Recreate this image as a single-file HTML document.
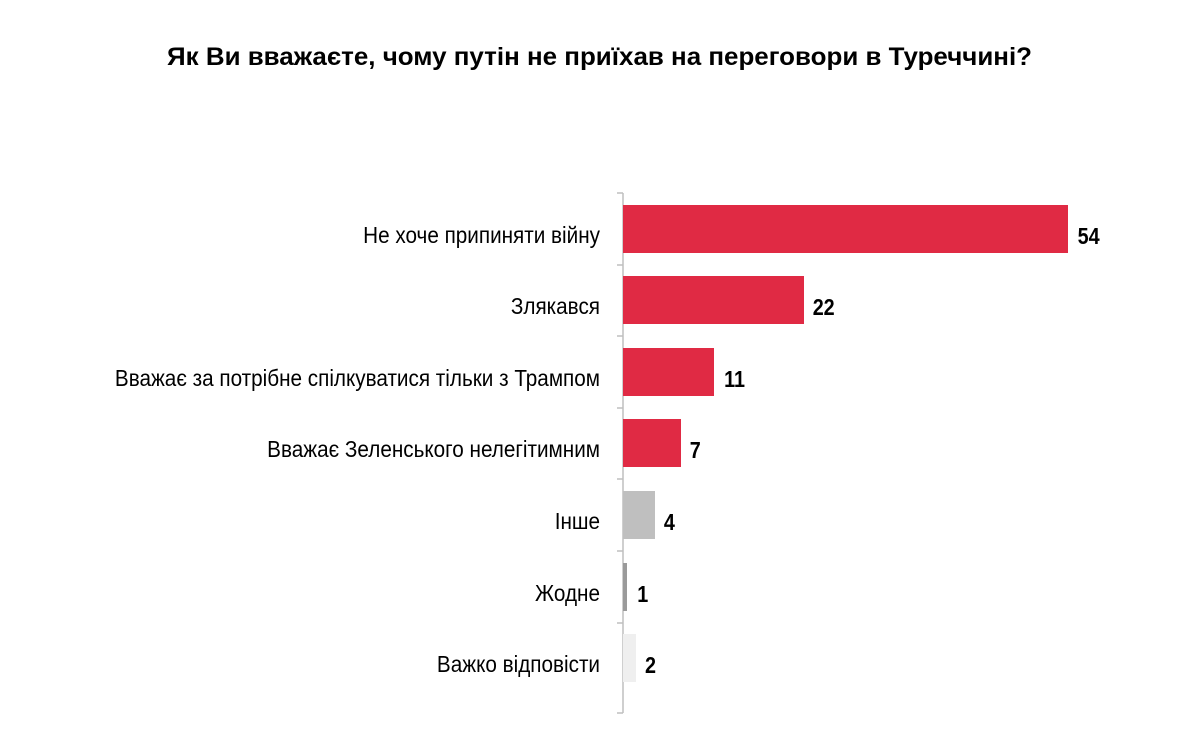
<!DOCTYPE html>
<html><head><meta charset="utf-8"><style>
body{margin:0;background:#fff;}
svg{display:block;}
text{font-family:"Liberation Sans",sans-serif;fill:#000;}
</style></head><body>
<svg width="1204" height="735" xmlns="http://www.w3.org/2000/svg">
<text x="167" y="65" font-size="25" font-weight="bold" textLength="865" lengthAdjust="spacingAndGlyphs">Як Ви вважаєте, чому путін не приїхав на переговори в Туреччині?</text>
<g stroke="#BFBFBF" stroke-width="1.5">
<line x1="623" y1="193" x2="623" y2="713"/>
<line x1="617" y1="193" x2="623" y2="193"/>
<line x1="617" y1="265" x2="623" y2="265"/>
<line x1="617" y1="336" x2="623" y2="336"/>
<line x1="617" y1="408" x2="623" y2="408"/>
<line x1="617" y1="479" x2="623" y2="479"/>
<line x1="617" y1="551" x2="623" y2="551"/>
<line x1="617" y1="623" x2="623" y2="623"/>
<line x1="617" y1="713" x2="623" y2="713"/>
</g>
<g>
<rect x="623" y="205" width="445" height="48" fill="#E02A44"/>
<rect x="623" y="276" width="181" height="48" fill="#E02A44"/>
<rect x="623" y="348" width="91" height="48" fill="#E02A44"/>
<rect x="623" y="419" width="58" height="48" fill="#E02A44"/>
<rect x="623" y="491" width="32" height="48" fill="#BFBFBF"/>
<rect x="623" y="563" width="4" height="48" fill="#9A9A9A"/>
<rect x="623" y="634" width="13" height="48" fill="#EFEFEF"/>
</g>
<g font-size="23" text-anchor="end" transform="translate(600,0) scale(0.9,1)">
<text x="0" y="243">Не хоче припиняти війну</text>
<text x="0" y="314">Злякався</text>
<text x="0" y="386">Вважає за потрібне спілкуватися тільки з Трампом</text>
<text x="0" y="457">Вважає Зеленського нелегітимним</text>
<text x="0" y="529">Інше</text>
<text x="0" y="601">Жодне</text>
<text x="0" y="672">Важко відповісти</text>
</g>
<g font-size="23" font-weight="bold" transform="scale(0.86,1)">
<text x="1253" y="244">54</text>
<text x="945" y="315">22</text>
<text x="842" y="387">11</text>
<text x="802" y="458">7</text>
<text x="772" y="530">4</text>
<text x="741" y="602">1</text>
<text x="750" y="673">2</text>
</g>
</svg>
</body></html>
